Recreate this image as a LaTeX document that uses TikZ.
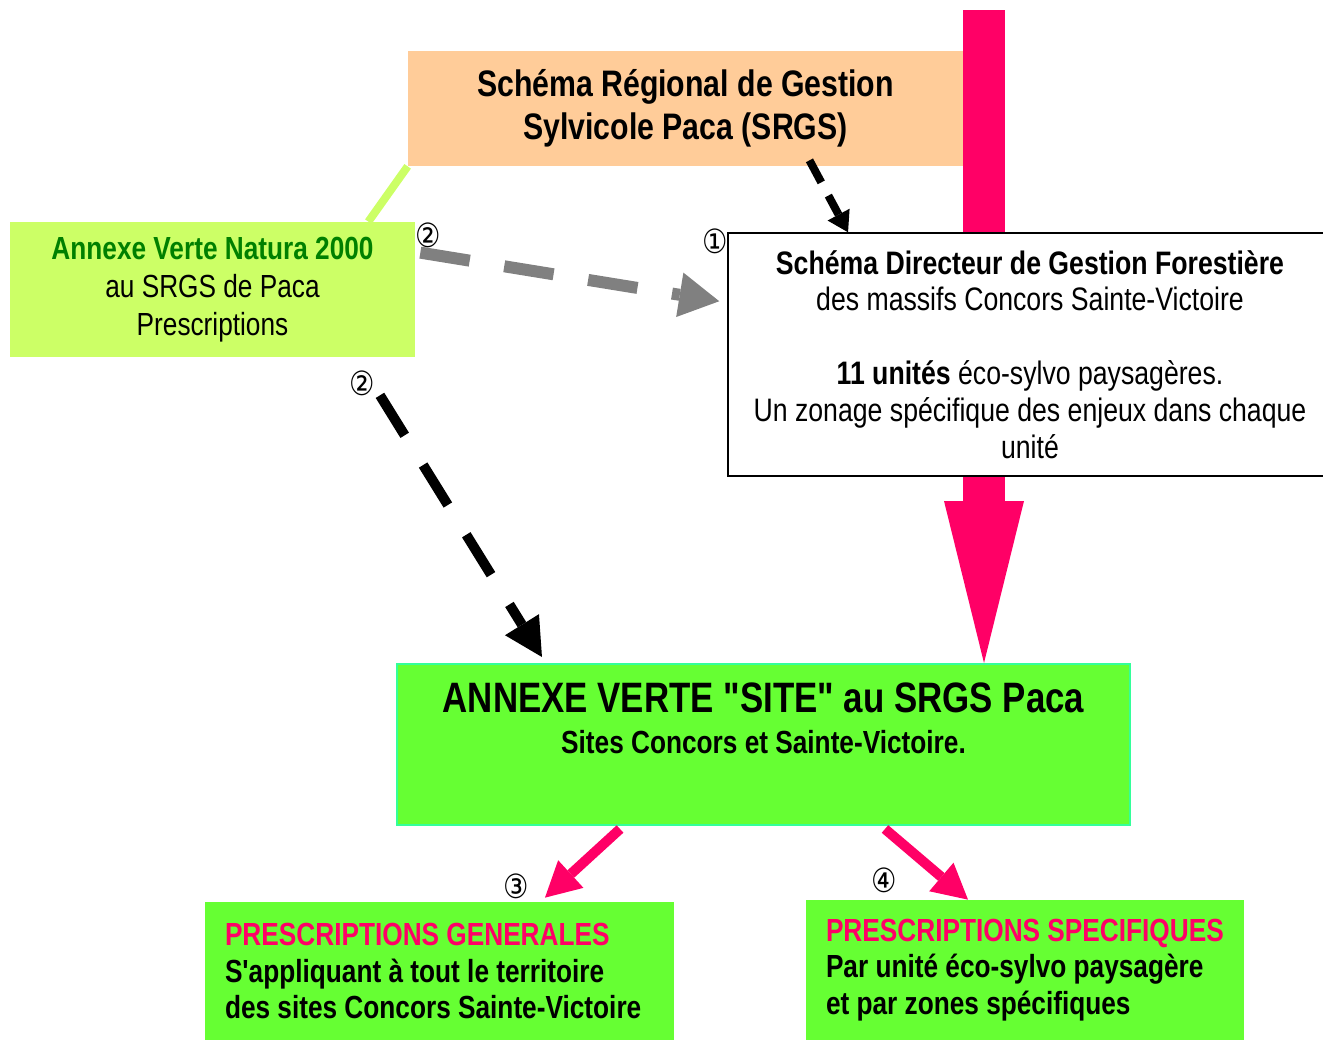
\documentclass[tikz,border=0pt]{standalone}
\usepackage{fontspec}
\setmainfont{Liberation Sans}[FakeStretch=0.82,Ligatures=TeXOff]
\newfontfamily\circfont{DejaVu Sans}[FakeStretch=0.85]
\usetikzlibrary{arrows.meta}
\definecolor{srgsorange}{HTML}{FFCC99}
\definecolor{naturagreen}{HTML}{CCFF66}
\definecolor{darkgreen}{HTML}{008000}
\definecolor{pinkred}{HTML}{FF0066}
\definecolor{sitegreen}{HTML}{66FF33}
\definecolor{siteborder}{HTML}{33FF99}
\definecolor{arrowgray}{HTML}{808080}
\begin{document}
\begin{tikzpicture}
[x=0.02cm,y=-0.02cm,
box/.style={inner sep=0pt,align=center},
num/.style={font=\circfont\fontsize{19}{19}\selectfont,inner sep=0pt},
mainarrow/.style={pinkred,line width=0.84cm,-{Triangle[length=3.24cm,width=1.6cm,line width=0pt]}},
pinkarrow/.style={pinkred,line width=0.2cm,-{Triangle[length=0.7cm,width=0.75cm,line width=0pt]}},
grayarrow/.style={arrowgray,line width=0.24cm,dash pattern=on 1cm off 0.7cm,-{Triangle[length=0.8cm,width=0.9cm,line width=0pt]}},
darrow/.style={black,line width=0.16cm,dash pattern=on 0.5cm off 0.3cm,-{Triangle[length=0.4cm,width=0.5cm,line width=0pt]}},
bigdarrow/.style={black,line width=0.2cm,dash pattern=on 0.94cm off 0.7cm,-{Triangle[length=0.76cm,width=0.8cm,line width=0pt]}},
linkline/.style={naturagreen,line width=0.16cm},]

\def\pix{0.02cm}
\useasboundingbox (0,0) rectangle (1323,1041);

%Annexe verte site and prescriptions
\node (site) at (763.5,744.5)[box,draw=siteborder,line width=0.04cm,fill=sitegreen,minimum width=733*\pix,minimum height=161*\pix] {};
\node (sitetext) at (763.5,698)[box,font=\fontsize{24.2}{25}\selectfont\bfseries] {ANNEXE VERTE "SITE" au SRGS Paca};
\node (sitesub) at (763.5,742)[box,font=\fontsize{18.2}{20}\selectfont\bfseries] {Sites Concors et Sainte-Victoire.};
\node (pg) at (439.5,971)[box,fill=sitegreen,minimum width=469*\pix,minimum height=138*\pix,text width=429*\pix,align=flush left,font=\fontsize{18.2}{20.9}\selectfont\bfseries] {\textcolor{pinkred}{PRESCRIPTIONS GENERALES}\\S'appliquant à tout le territoire\\des sites Concors Sainte-Victoire\\[-0.1cm]};
\node (ps) at (1025,970)[box,fill=sitegreen,minimum width=438*\pix,minimum height=140*\pix,text width=398*\pix,align=flush left,font=\fontsize{18.2}{20.9}\selectfont\bfseries] {\textcolor{pinkred}{PRESCRIPTIONS SPECIFIQUES}\\Par unité éco-sylvo paysagère\\et par zones spécifiques\\[-0.1cm]};

%Main pink arrow
\coordinate (top) at (984,10);
\draw[mainarrow] (top) -- (top |- site.north);

%Upper boxes
\node (srgs) at (685.5,108.5)[box,fill=srgsorange,minimum width=555*\pix,minimum height=115*\pix,font=\fontsize{21}{24.5}\selectfont\bfseries] {Schéma Régional de Gestion\\Sylvicole Paca (SRGS)};
\node (natura) at (212.5,289.5)[box,fill=naturagreen,minimum width=405*\pix,minimum height=135*\pix,font=\fontsize{18.2}{21.6}\selectfont] {\textbf{\textcolor{darkgreen}{Annexe Verte Natura 2000}}\\au SRGS de Paca\\Prescriptions};
\node (sdgf) at (1030,354.5)[box,draw,fill=white,line width=0.03cm,minimum width=604*\pix,minimum height=243*\pix,font=\fontsize{18.5}{21}\selectfont] {\textbf{Schéma Directeur de Gestion Forestière}\\des massifs Concors Sainte-Victoire\\[21pt]\textbf{11 unités} éco-sylvo paysagères.\\Un zonage spécifique des enjeux dans chaque\\unité};

%Links
\draw[linkline] (srgs.south west) -- ([xshift=-0.94cm]natura.north east);
\draw[grayarrow] ([xshift=0.1cm,yshift=-0.62cm]natura.north east) -- ([xshift=-0.16cm,yshift=-1.38cm]sdgf.north west);
\draw[darrow] ([xshift=2.48cm,yshift=0.12cm]srgs.south) -- ([xshift=-3.64cm]sdgf.north);
\draw[bigdarrow] ([xshift=3.35cm,yshift=-0.76cm]natura.south) -- ([xshift=2.92cm,yshift=0.12cm]site.north west);
\draw[pinkarrow] ([xshift=-2.87cm,yshift=-0.06cm]site.south) -- ([xshift=2.11cm,yshift=0.08cm]pg.north);
\draw[pinkarrow] ([xshift=2.43cm,yshift=-0.06cm]site.south) -- ([xshift=-1.14cm]ps.north);

%Numbers
\node (n1) at (715,241)[num] {①};
\node (n2a) at (428,235)[num] {②};
\node (n2b) at (362,383)[num] {②};
\node (n3) at (516,886)[num] {③};
\node (n4) at (884,880)[num] {④};

\end{tikzpicture}
\end{document}
